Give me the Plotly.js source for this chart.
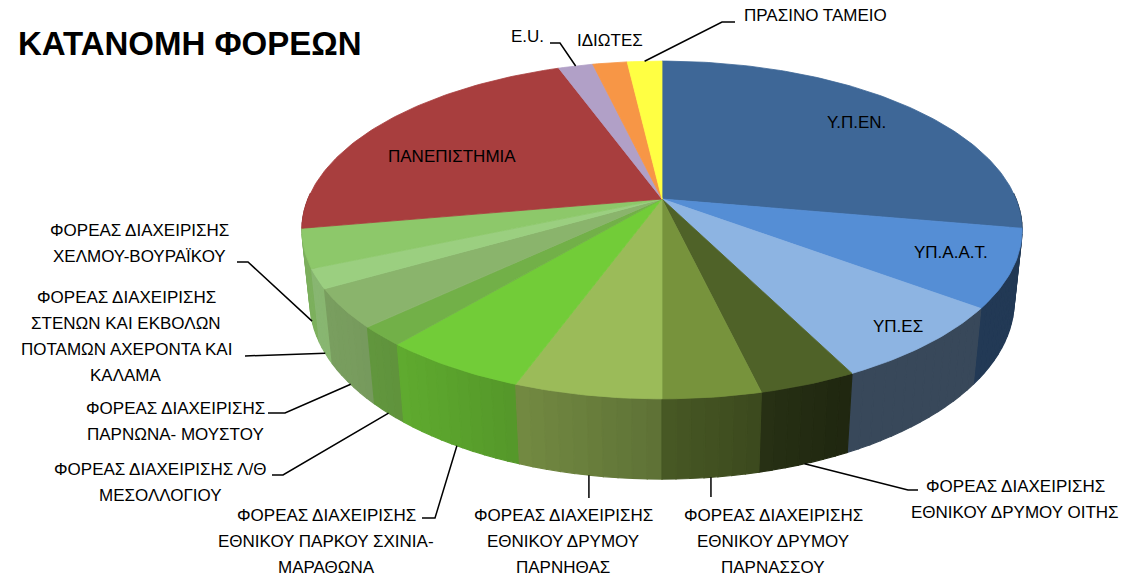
<!DOCTYPE html>
<html><head><meta charset="utf-8">
<script src="https://cdn.plot.ly/plotly-3.0.1.min.js"></script>
<style>html,body{margin:0;padding:0;background:#fff;overflow:hidden}#chart{width:1130px;height:577px}</style>
</head><body><div id="chart"></div>
<script>
// ---------- DATA ----------
const chartTitle = 'ΚΑΤΑΝΟΜΗ ΦΟΡΕΩΝ';
const categories = [
  'Υ.Π.ΕΝ.',
  'ΥΠ.Α.Α.Τ.',
  'ΥΠ.ΕΣ',
  'ΦΟΡΕΑΣ ΔΙΑΧΕΙΡΙΣΗΣ<br>ΕΘΝΙΚΟΥ ΔΡΥΜΟΥ ΟΙΤΗΣ',
  'ΦΟΡΕΑΣ ΔΙΑΧΕΙΡΙΣΗΣ<br>ΕΘΝΙΚΟΥ ΔΡΥΜΟΥ<br>ΠΑΡΝΑΣΣΟΥ',
  'ΦΟΡΕΑΣ ΔΙΑΧΕΙΡΙΣΗΣ<br>ΕΘΝΙΚΟΥ ΔΡΥΜΟΥ<br>ΠΑΡΝΗΘΑΣ',
  'ΦΟΡΕΑΣ ΔΙΑΧΕΙΡΙΣΗΣ<br>ΕΘΝΙΚΟΥ ΠΑΡΚΟΥ ΣΧΙΝΙΑ-<br>ΜΑΡΑΘΩΝΑ',
  'ΦΟΡΕΑΣ ΔΙΑΧΕΙΡΙΣΗΣ Λ/Θ<br>ΜΕΣΟΛΛΟΓΙΟΥ',
  'ΦΟΡΕΑΣ ΔΙΑΧΕΙΡΙΣΗΣ<br>ΠΑΡΝΩΝΑ- ΜΟΥΣΤΟΥ',
  'ΦΟΡΕΑΣ ΔΙΑΧΕΙΡΙΣΗΣ<br>ΣΤΕΝΩΝ ΚΑΙ ΕΚΒΟΛΩΝ<br>ΠΟΤΑΜΩΝ ΑΧΕΡΟΝΤΑ ΚΑΙ<br>ΚΑΛΑΜΑ',
  'ΦΟΡΕΑΣ ΔΙΑΧΕΙΡΙΣΗΣ<br>ΧΕΛΜΟΥ-ΒΟΥΡΑΪΚΟΥ',
  'ΠΑΝΕΠΙΣΤΗΜΙΑ',
  'E.U.',
  'ΙΔΙΩΤΕΣ',
  'ΠΡΑΣΙΝΟ ΤΑΜΕΙΟ'
];
const values = [15, 4, 4, 2, 2, 3, 3, 1, 2, 1, 2, 12, 1, 1, 1];
const colors = ['#3E6797', '#558ED5', '#8DB4E2', '#4F6228', '#77933C', '#9BBB59', '#72CC38',
                '#72B048', '#8AB46C', '#9BCF80', '#8DC86A', '#A83E3E', '#B1A0C7', '#F79646', '#FFFF43'];

// ---------- LABEL LAYOUT (positions only) ----------
const labelLayout = [
  {inside: true, x: 856, y: 122},
  {inside: true, x: 951, y: 252},
  {inside: true, x: 898, y: 326},
  {x: 1015, y: 486, face: 'bottom', path: [[908, 490], [918, 490]]},
  {x: 773, y: 515, face: 'bottom', path: [[null, 497]]},
  {x: 563, y: 515, face: 'bottom', path: [[null, 498]]},
  {x: 326, y: 515, face: 'bottom', path: [[435, 518], [422, 518]]},
  {x: 160, y: 469, face: 'bottom', path: [[283, 475], [272, 475]]},
  {x: 175, y: 408, face: 'bottom', path: [[285, 413], [268, 413]]},
  {x: 126, y: 297, face: 'bottom', path: [[245, 356]]},
  {x: 139, y: 230, face: 'bottom', path: [[248, 262], [237, 262]]},
  {inside: true, x: 452, y: 156},
  {x: 527, y: 36, face: 'top', path: [[560, 43], [550, 43]]},
  {x: 610, y: 40, noLeader: true},
  {x: 815, y: 15, face: 'top', path: [[722, 22], [735, 22]]}
];
const lineGap = 26;

// ---------- 3D PROJECTION GEOMETRY ----------
const CX = 662, CY = 199, K = 4.838, CPHI = 0.887, SPHI = 0.461, A = 1712.7, DEPTH = 0.228;
function proj(deg, h) {
  const t = deg * Math.PI / 180, s = Math.sin(t), c = Math.cos(t);
  const d = K + c * CPHI - h * SPHI;
  return [CX + A * s / d, CY - A * (c * SPHI + h * CPHI) / d];
}
function hexToRgb(h) { const n = parseInt(h.slice(1), 16); return [(n >> 16) & 255, (n >> 8) & 255, n & 255]; }
function shade(hex, f) { const c = hexToRgb(hex).map(v => Math.round(Math.min(255, v * f))); return 'rgb(' + c.join(',') + ')'; }
function sideFactor(deg) { return 0.4 + 0.48 * Math.max(0, Math.cos((deg - 245) * Math.PI / 180)); }

const total = values.reduce((a, b) => a + b, 0);
const starts = [], ends = [];
let acc = 0;
values.forEach(v => { starts.push(acc / total * 360); acc += v; ends.push(acc / total * 360); });

const traces = [];
// side strips
const strips = [];
values.forEach((v, i) => {
  const a0 = Math.max(starts[i], 88), a1 = Math.min(ends[i], 272);
  if (a1 <= a0) return;
  const n = Math.max(1, Math.ceil((a1 - a0) / 2));
  for (let k = 0; k < n; k++) {
    const b0 = a0 + (a1 - a0) * k / n, b1 = a0 + (a1 - a0) * (k + 1) / n;
    strips.push({i, b0, b1, mid: (b0 + b1) / 2});
  }
});
strips.sort((p, q) => Math.abs(q.mid - 180) - Math.abs(p.mid - 180));
strips.forEach(st => {
  const p = [proj(st.b0, 0), proj(st.b1, 0), proj(st.b1, -DEPTH), proj(st.b0, -DEPTH), proj(st.b0, 0)];
  const col = shade(colors[st.i], sideFactor(st.mid));
  traces.push({type: 'scatter', mode: 'lines', x: p.map(q => q[0]), y: p.map(q => q[1]),
    fill: 'toself', fillcolor: col, line: {color: col, width: 1.2}, hoverinfo: 'skip', showlegend: false});
});
// top faces
values.forEach((v, i) => {
  const xs = [CX], ys = [CY];
  const n = Math.max(2, Math.ceil((ends[i] - starts[i]) / 1));
  for (let k = 0; k <= n; k++) {
    const q = proj(starts[i] + (ends[i] - starts[i]) * k / n, 0);
    xs.push(q[0]); ys.push(q[1]);
  }
  xs.push(CX); ys.push(CY);
  traces.push({type: 'scatter', mode: 'lines', x: xs, y: ys, fill: 'toself', fillcolor: colors[i],
    line: {color: colors[i], width: 0.8}, hoverinfo: 'skip', showlegend: false, name: categories[i]});
});

// labels and leaders
const annotations = [];
const lblFont = {family: 'Liberation Sans, Arial, sans-serif', size: 17, color: '#000'};
categories.forEach((c, i) => {
  const L = labelLayout[i];
  const lines = c.split('<br>');
  lines.forEach((t, j) => {
    annotations.push({xref: 'x', yref: 'y', x: L.x, y: L.y + j * lineGap, text: t, showarrow: false,
      xanchor: 'center', yanchor: 'middle', font: lblFont});
  });
  if (!L.inside && !L.noLeader) {
    const mid = (starts[i] + ends[i]) / 2;
    const s = proj(mid, L.face === 'top' ? 0 : -DEPTH);
    const xs = [s[0]], ys = [s[1]];
    L.path.forEach(pt => { xs.push(pt[0] === null ? s[0] : pt[0]); ys.push(pt[1]); });
    traces.push({type: 'scatter', mode: 'lines', x: xs, y: ys, line: {color: '#000', width: 1.5},
      hoverinfo: 'skip', showlegend: false});
  }
});
annotations.push({xref: 'x', yref: 'y', x: 364, y: 43, text: '<b>' + chartTitle + '</b>', showarrow: false,
  xanchor: 'right', yanchor: 'middle', font: {family: 'Liberation Sans, Arial, sans-serif', size: 33, color: '#000'}});

const layout = {
  width: 1130, height: 577,
  margin: {l: 0, r: 0, t: 0, b: 0},
  paper_bgcolor: '#fff', plot_bgcolor: '#fff',
  xaxis: {range: [0, 1130], visible: false, fixedrange: true},
  yaxis: {range: [577, 0], visible: false, fixedrange: true},
  showlegend: false,
  annotations: annotations
};
Plotly.newPlot('chart', traces, layout, {displayModeBar: false, staticPlot: true});
</script></body></html>
